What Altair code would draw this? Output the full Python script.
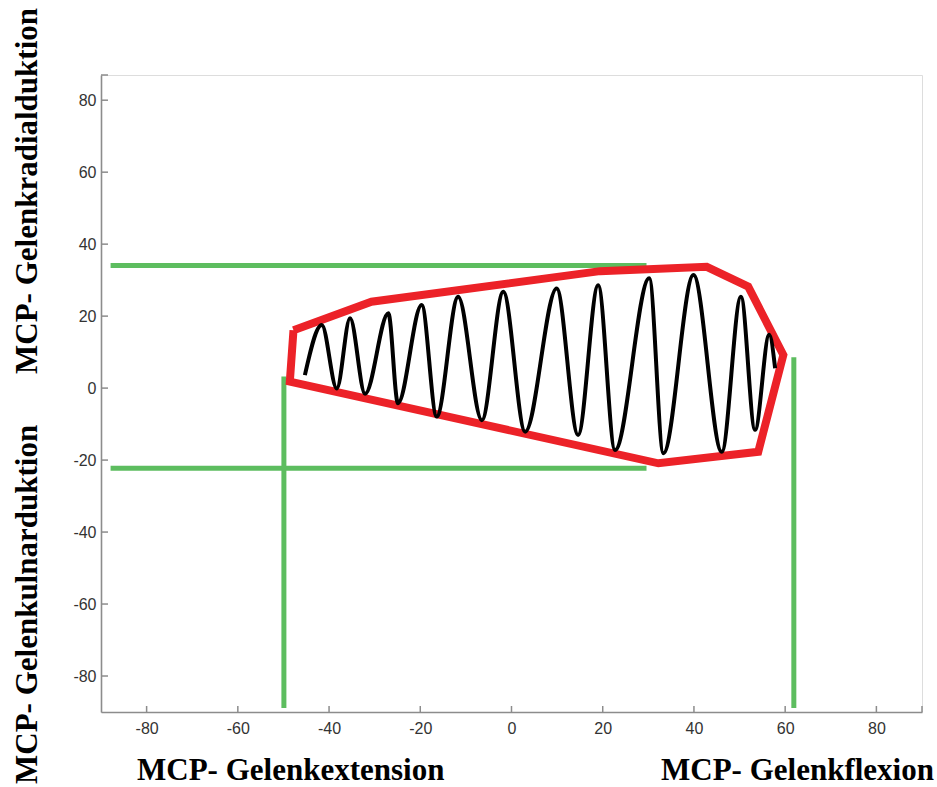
import altair as alt
import pandas as pd

# ---- data ----
X_TICKS = [-80, -60, -40, -20, 0, 20, 40, 60, 80]
Y_TICKS = [-80, -60, -40, -20, 0, 20, 40, 60, 80]
X_DOMAIN = [-90, 90]
Y_DOMAIN = [-90, 87]

# black oscillation (turning points, smoothed by the library)
WAVE_X = [-45.3, -41.6, -38.3, -35.4, -32.1, -27.0, -24.9, -19.7, -16.4, -11.7, -6.5, -1.8,
          3.0, 9.9, 14.6, 19.0, 22.7, 30.2, 33.3, 39.9, 46.1, 50.3, 53.4, 56.5, 57.8]
WAVE_Y = [3.6, 17.5, -0.1, 19.4, -1.6, 20.8, -4.2, 23.1, -7.9, 25.4, -8.9, 26.8,
          -12.1, 27.7, -13.0, 28.6, -17.2, 30.5, -18.1, 31.4, -17.7, 25.4, -11.6, 14.8, 5.5]

# red envelope polygon (closed)
HULL_X = [-47.8, -30.7, 19.4, 42.8, 51.9, 59.6, 54.1, 32.2, -48.6, -47.8]
HULL_Y = [16.1, 24.0, 32.5, 33.7, 28.2, 9.2, -17.7, -20.9, 1.8, 16.1]

# green reference lines
GREEN_X1 = [-87.9, -87.9, -49.9, 61.9]
GREEN_X2 = [29.6, 29.6, -49.9, 61.9]
GREEN_Y1 = [34.1, -22.3, 3.2, 8.6]
GREEN_Y2 = [34.1, -22.3, -88.9, -88.9]

X_TITLE_LEFT = "MCP- Gelenkextension"
X_TITLE_RIGHT = "MCP- Gelenkflexion"
Y_TITLE_LOWER = "MCP- Gelenkulnarduktion"
Y_TITLE_UPPER = "MCP- Gelenkradialduktion"

W, H = 821, 637

xs = alt.Scale(domain=X_DOMAIN, nice=False, zero=False)
ys = alt.Scale(domain=Y_DOMAIN, nice=False, zero=False)
common = dict(title=None, grid=False, ticks=False, domainColor="#8c8c8c", domainWidth=1.6,
              labelColor="#333333", labelFont="Liberation Sans", labelFontSize=16,
              labelExpr="'' + datum.value")
xaxis = alt.Axis(values=X_TICKS, labelPadding=8, **common)
yaxis = alt.Axis(values=Y_TICKS, labelPadding=5, **common)

wave_df = pd.DataFrame({"x": WAVE_X, "y": WAVE_Y, "i": range(len(WAVE_X))})
hull_df = pd.DataFrame({"x": HULL_X, "y": HULL_Y, "i": range(len(HULL_X))})
green_df = pd.DataFrame({"x": GREEN_X1, "x2": GREEN_X2, "y": GREEN_Y1, "y2": GREEN_Y2})
xt_df = pd.DataFrame({"v": X_TICKS + [X_DOMAIN[1]]})
yt_df = pd.DataFrame({"v": Y_TICKS + [Y_DOMAIN[1]]})

green = alt.Chart(green_df).mark_rule(color="#5dbd5f", strokeWidth=5, strokeCap="butt").encode(
    x=alt.X("x:Q", scale=xs, axis=xaxis),
    x2="x2:Q",
    y=alt.Y("y:Q", scale=ys, axis=yaxis),
    y2="y2:Q",
)

hull = alt.Chart(hull_df).mark_line(color="#ec2228", strokeWidth=8, strokeJoin="miter").encode(
    x=alt.X("x:Q", scale=xs, axis=xaxis),
    y=alt.Y("y:Q", scale=ys, axis=yaxis),
    order="i:Q",
)

wave = alt.Chart(wave_df).mark_line(color="black", strokeWidth=4, interpolate="monotone").encode(
    x=alt.X("x:Q", scale=xs, axis=xaxis),
    y=alt.Y("y:Q", scale=ys, axis=yaxis),
    order="i:Q",
)

xticks = alt.Chart(xt_df).mark_rule(color="#8c8c8c", strokeWidth=1.5).encode(
    x=alt.X("v:Q", scale=xs, axis=xaxis),
    y=alt.value(H),
    y2=alt.value(H - 6),
)
yticks = alt.Chart(yt_df).mark_rule(color="#8c8c8c", strokeWidth=1.5).encode(
    y=alt.Y("v:Q", scale=ys, axis=yaxis),
    x=alt.value(0),
    x2=alt.value(7),
)

def title_text(txt, px, py, angle=0):
    return alt.Chart(pd.DataFrame({"t": [txt]})).mark_text(
        font="Liberation Serif", fontWeight="bold", fontSize=31, color="black",
        align="left", baseline="alphabetic", angle=angle,
    ).encode(text="t:N", x=alt.value(px), y=alt.value(py))

t1 = title_text(X_TITLE_LEFT, 36, 705)
t2 = title_text(X_TITLE_RIGHT, 560, 705)
t3 = title_text(Y_TITLE_LOWER, -64, 709, 270)
t4 = title_text(Y_TITLE_UPPER, -64, 299, 270)

chart = alt.layer(green, hull, wave, xticks, yticks, t1, t2, t3, t4).properties(
    width=W, height=H,
    autosize=alt.AutoSizeParams(type="none"),
    padding={"left": 101, "top": 75, "right": 15, "bottom": 75},
).configure_view(stroke=None).configure(background="white")

chart.save("out.html", embed_options={"renderer": "svg", "actions": False})
